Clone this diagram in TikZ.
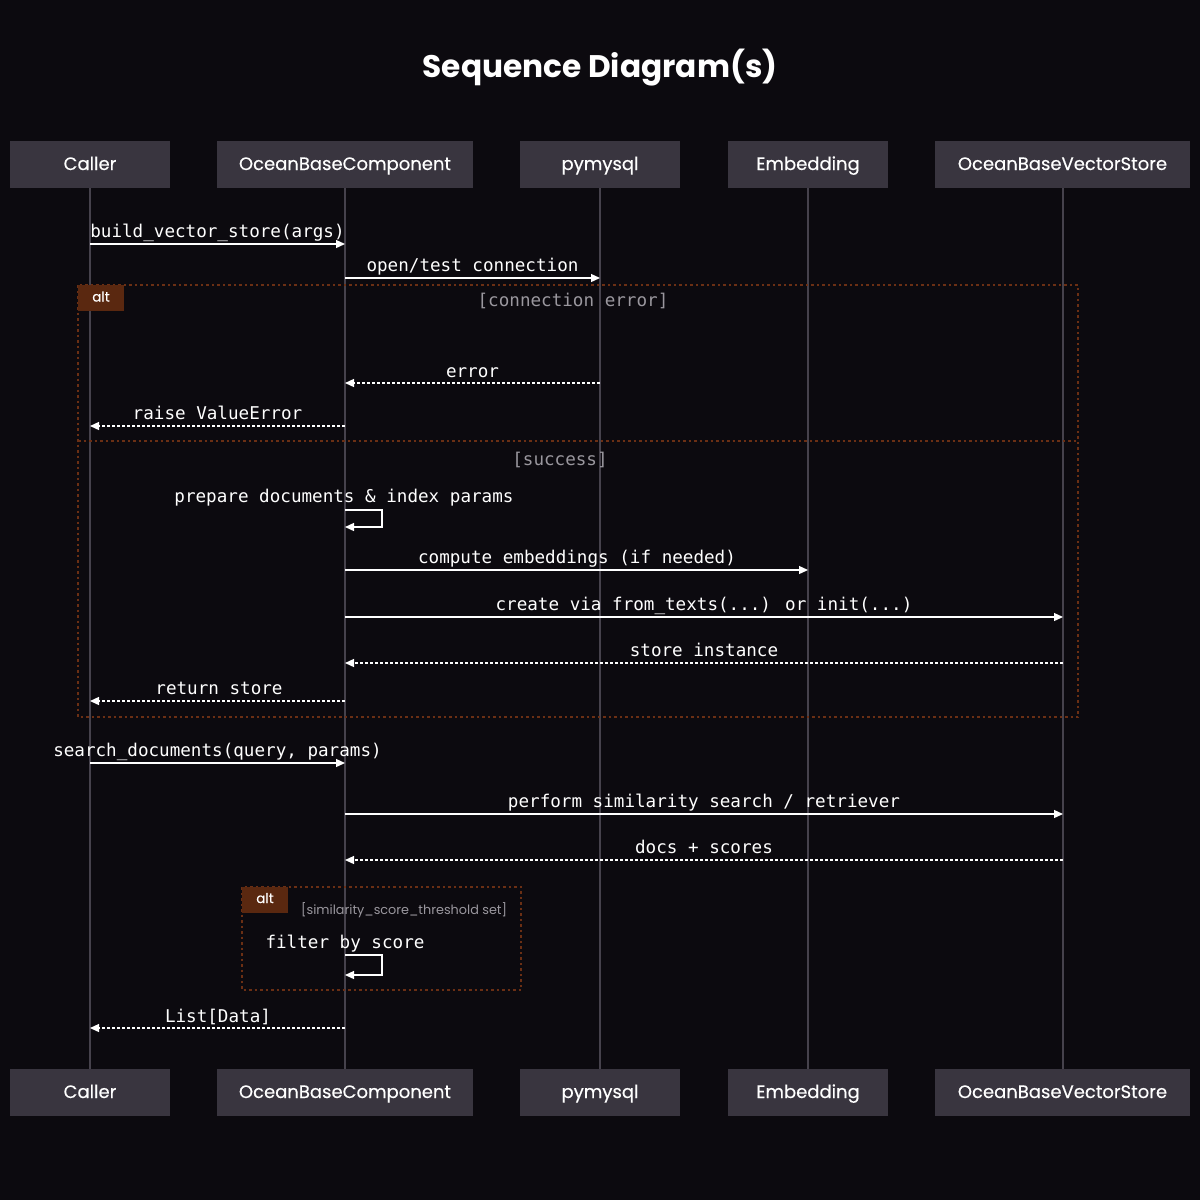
\documentclass[tikz,border=0pt]{standalone}
\usepackage{fontspec}
\setmainfont{Poppins}
\newfontfamily\monof{DejaVu Sans Mono}
\newfontfamily\partf[FakeBold=0.35]{Poppins}
\usetikzlibrary{arrows.meta}
\definecolor{bgc}{HTML}{0C0A0F}
\definecolor{boxc}{HTML}{39353F}
\definecolor{lifec}{HTML}{46424C}
\definecolor{altc}{HTML}{6B2F14}
\definecolor{tagc}{HTML}{5A2810}
\definecolor{condc}{HTML}{9A979E}
\tikzset{
  part/.style={fill=boxc, draw=none, minimum height=47pt, text=white, font=\partf\fontsize{18}{20}\selectfont, inner sep=0pt, text height=14pt, text depth=3pt},
  life/.style={draw=lifec, line width=2pt},
  msg/.style={draw=white, line width=1.3pt, -{Triangle[length=9pt,width=8pt]}},
  ret/.style={msg, dash pattern=on 3pt off 2pt},
  mlabel/.style={text=white, font=\monof\fontsize{17.6}{20}\selectfont, inner sep=0pt, text height=13pt, text depth=4pt, yshift=-1.5pt},
  cond/.style={text=condc, font=\monof\fontsize{17.6}{20}\selectfont, inner sep=0pt, text height=13pt, text depth=4pt, yshift=-1.5pt},
  altbox/.style={draw=altc, line width=2pt, dash pattern=on 2.5pt off 3pt},
  tag/.style={fill=tagc, text=white, font=\partf\fontsize{13.5}{15}\selectfont, inner sep=0pt, minimum width=46pt, minimum height=26pt, text height=9pt, text depth=2pt}
}
\begin{document}
\begin{tikzpicture}[x=1pt,y=-1pt]
\fill[bgc] (0,0) rectangle (1200,1200);
\useasboundingbox (0,0) rectangle (1200,1200);
\node[text=white, font=\bfseries\fontsize{31.2}{34}\selectfont, inner sep=0pt, text height=23pt, text depth=7pt, yshift=-3pt] (title) at (600,66) {Sequence Diagram(s)};
% participants
\node[part, minimum width=160pt] (ct) at (90,164.5) {Caller};
\node[part, minimum width=256pt] (ot) at (345,164.5) {OceanBaseComponent};
\node[part, minimum width=160pt] (pt) at (600,164.5) {pymysql};
\node[part, minimum width=160pt] (et) at (808,164.5) {Embedding};
\node[part, minimum width=255pt] (vt) at (1062.5,164.5) {OceanBaseVectorStore};
\node[part, minimum width=160pt] (cb) at (90,1092.5) {Caller};
\node[part, minimum width=256pt] (ob) at (345,1092.5) {OceanBaseComponent};
\node[part, minimum width=160pt] (pb) at (600,1092.5) {pymysql};
\node[part, minimum width=160pt] (eb) at (808,1092.5) {Embedding};
\node[part, minimum width=255pt] (vb) at (1062.5,1092.5) {OceanBaseVectorStore};
\draw[life] (ct.south) -- (cb.north);
\draw[life] (ot.south) -- (ob.north);
\draw[life] (pt.south) -- (pb.north);
\draw[life] (et.south) -- (eb.north);
\draw[life] (vt.south) -- (vb.north);
% alt box 1
\draw[altbox] (78,285) rectangle (1078,717);
\draw[altbox] (78,441) -- (1078,441);
\node[tag] (tag1) at (101,298) {alt};
\node[cond] (c1) at (573,300) {[connection error]};
\node[cond] (c2) at (560,459) {[success]};
% alt box 2
\draw[altbox] (242,887) rectangle (521,990);
\node[tag] (tag2) at (265,899.5) {alt};
\node[text=condc, font=\fontsize{12.8}{14}\selectfont, inner sep=0pt, anchor=west, text height=9pt, text depth=3pt, yshift=-1pt] (c3) at (301,910) {[similarity\_score\_threshold set]};
% coordinates
\foreach \n/\y in {1/244,2/278,3/383,4/426,5/510,6/570,7/617,8/663,9/701,10/763,11/814,12/860,13/955,14/1028}{
  \coordinate (c\n) at (90,\y);
  \coordinate (o\n) at (345,\y);
  \coordinate (p\n) at (600,\y);
  \coordinate (e\n) at (808,\y);
  \coordinate (v\n) at (1063,\y);
}
\draw[msg] (c1) -- (o1);
\node[mlabel] at (217.5,231) {build\_vector\_store(args)};
\draw[msg] (o2) -- (p2);
\node[mlabel] at (472.5,265) {open/test connection};
\draw[ret] (p3) -- (o3);
\node[mlabel] at (472.5,371) {error};
\draw[ret] (o4) -- (c4);
\node[mlabel] at (217.5,413) {raise ValueError};
\coordinate (s1) at (382,510);
\coordinate (s2) at (382,527);
\coordinate (s3) at (345,527);
\draw[msg] (o5) -- (s1) -- (s2) -- (s3);
\node[mlabel] at (344,496) {prepare documents \& index params};
\draw[msg] (o6) -- (e6);
\node[mlabel] at (577,557) {compute embeddings (if needed)};
\draw[msg] (o7) -- (v7);
\node[mlabel] at (704,604) {create via from\_texts(...) or init(...)};
\draw[ret] (v8) -- (o8);
\node[mlabel] at (704,650) {store instance};
\draw[ret] (o9) -- (c9);
\node[mlabel] at (219,688) {return store};
\draw[msg] (c10) -- (o10);
\node[mlabel] at (217.5,750) {search\_documents(query, params)};
\draw[msg] (o11) -- (v11);
\node[mlabel] at (704,801) {perform similarity search / retriever};
\draw[ret] (v12) -- (o12);
\node[mlabel] at (704,847) {docs + scores};
\coordinate (t1) at (382,955);
\coordinate (t2) at (382,975);
\coordinate (t3) at (345,975);
\draw[msg] (o13) -- (t1) -- (t2) -- (t3);
\node[mlabel] at (345,942) {filter by score};
\draw[ret] (o14) -- (c14);
\node[mlabel] at (218,1016) {List[Data]};
\end{tikzpicture}
\end{document}
